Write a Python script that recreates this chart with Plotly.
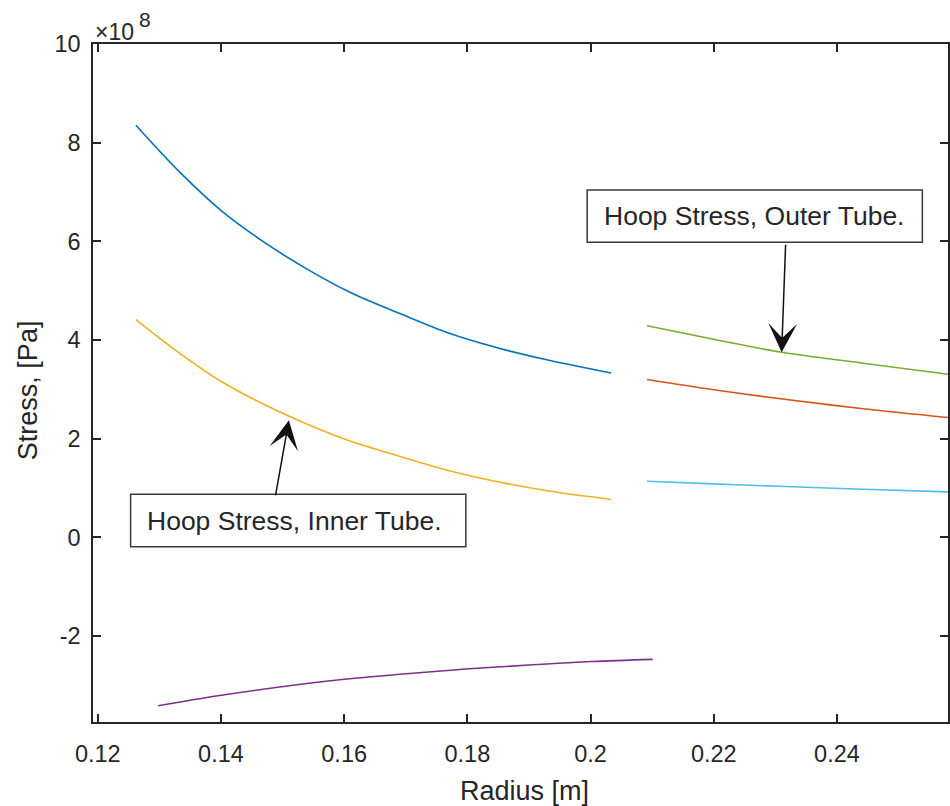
import plotly.graph_objects as go

# ---------------- data (radius in m, stress in units of 1e8 Pa) ----------------
inner_r = [0.12619, 0.13331, 0.14033, 0.14736, 0.15384, 0.16085, 0.16895, 0.17705, 0.18514, 0.19324, 0.20333]
inner_blue = [8.354, 7.404, 6.594, 5.954, 5.448, 4.974, 4.542, 4.137, 3.834, 3.591, 3.333]
inner_yellow = [4.415, 3.732, 3.139, 2.673, 2.305, 1.960, 1.646, 1.353, 1.124, 0.940, 0.770]

radial_r = [0.12980, 0.13979, 0.14951, 0.15967, 0.16960, 0.17975, 0.19000, 0.20016, 0.21009]
radial_purple = [-3.410, -3.204, -3.032, -2.880, -2.768, -2.667, -2.586, -2.515, -2.471]

outer_r = [0.20916, 0.21997, 0.23050, 0.24427, 0.25803]
outer_green = [4.289, 4.016, 3.763, 3.530, 3.307]
outer_red = [3.200, 2.993, 2.815, 2.608, 2.430]
outer_lightblue = [1.140, 1.085, 1.039, 0.978, 0.923]

x_ticks = [0.12, 0.14, 0.16, 0.18, 0.20, 0.22, 0.24]
x_tick_text = ["0.12", "0.14", "0.16", "0.18", "0.2", "0.22", "0.24"]
y_ticks = [-2, 0, 2, 4, 6, 8, 10]
y_tick_text = ["-2", "0", "2", "4", "6", "8", "10"]
SCALE = 1e8

FONT = "Liberation Sans, Arial, Helvetica, sans-serif"
AX = "#262626"

def pa(vals):
    return [v * SCALE for v in vals]

series = [
    (inner_r, inner_blue, "#0072BD"),
    (outer_r, outer_red, "#D95319"),
    (inner_r, inner_yellow, "#EDB120"),
    (radial_r, radial_purple, "#7E2F8E"),
    (outer_r, outer_green, "#77AC30"),
    (outer_r, outer_lightblue, "#4DBEEE"),
]

fig = go.Figure()
for xs, ys, col in series:
    fig.add_trace(go.Scatter(x=xs, y=pa(ys), mode="lines",
                             line=dict(color=col, width=1.6, shape="spline"),
                             showlegend=False, hoverinfo="skip"))

W, H = 950, 806
L, R, T, B = 93, 0, 44, 84
pw, ph = W - L - R, H - T - B

def px(x):
    return (x - L) / pw

def py(y):
    return (H - B - y) / ph

fig.update_layout(
    width=W, height=H,
    margin=dict(l=L, r=R, t=T, b=B),
    paper_bgcolor="white", plot_bgcolor="white",
    font=dict(family=FONT, color=AX),
    showlegend=False,
)
fig.update_xaxes(
    range=[0.119223, 0.258024], tickvals=x_ticks, ticktext=x_tick_text,
    showgrid=False, zeroline=False, showline=True, linecolor=AX, linewidth=1.5,
    mirror="ticks", ticks="inside", ticklen=8, tickwidth=1.5, tickcolor=AX,
    tickfont=dict(size=23.5, family=FONT, color=AX), ticklabelstandoff=10,
)
fig.update_yaxes(
    range=[-3.74 * SCALE, 10 * SCALE], tickvals=pa(y_ticks), ticktext=y_tick_text,
    showgrid=False, zeroline=False, showline=True, linecolor=AX, linewidth=1.5,
    mirror="ticks", ticks="inside", ticklen=8, tickwidth=1.5, tickcolor=AX,
    tickfont=dict(size=23.5, family=FONT, color=AX), ticklabelstandoff=6,
)

# text boxes
boxes = [
    ((588.3, 190.0, 924.3, 242.3), 602.7, "Hoop Stress, Outer Tube."),
    ((130.7, 494.3, 466.7, 546.7), 145.0, "Hoop Stress, Inner Tube."),
]
for (x0, y0, x1, y1), tx, txt in boxes:
    fig.add_shape(type="rect", xref="paper", yref="paper",
                  x0=px(x0), x1=px(x1), y0=py(y1), y1=py(y0),
                  line=dict(color="#3a3a3a", width=1.5), fillcolor="white", layer="above")
    fig.add_annotation(xref="paper", yref="paper", x=px(tx), y=py((y0 + y1) / 2),
                       xanchor="left", yanchor="middle", text=txt, showarrow=False,
                       font=dict(size=26.5, family=FONT, color=AX))

# arrows (head at data point, tail offset in pixels)
arrows = [
    (0.23102, 3.752, 4, -109),
    (0.15102, 2.375, -13.6, 76.7),
]
for x, y, ax, ay in arrows:
    fig.add_annotation(x=x, y=y * SCALE, xref="x", yref="y", text="", showarrow=True,
                       ax=ax, ay=ay, arrowhead=3, arrowsize=3.2, arrowwidth=1.5,
                       arrowcolor="#111111", standoff=0)

# exponent label
fig.add_annotation(xref="paper", yref="paper", x=px(93), y=py(31.5), xanchor="left", yanchor="middle",
                   text="×10", showarrow=False, font=dict(size=23, family=FONT, color=AX))
fig.add_annotation(xref="paper", yref="paper", x=px(137), y=py(20), xanchor="left", yanchor="middle",
                   text="8", showarrow=False, font=dict(size=21, family=FONT, color=AX))

# axis labels
fig.add_annotation(xref="paper", yref="paper", x=px(526), y=py(791), xanchor="center", yanchor="middle",
                   text="Radius [m]", showarrow=False, font=dict(size=27, family=FONT, color=AX))
fig.add_annotation(xref="paper", yref="paper", x=px(28), y=py(390), xanchor="center", yanchor="middle",
                   text="Stress, [Pa]", textangle=-90, showarrow=False,
                   font=dict(size=27, family=FONT, color=AX))

fig.write_html("out.html", config={"displayModeBar": False},
               post_script="document.body.style.margin='0';")
